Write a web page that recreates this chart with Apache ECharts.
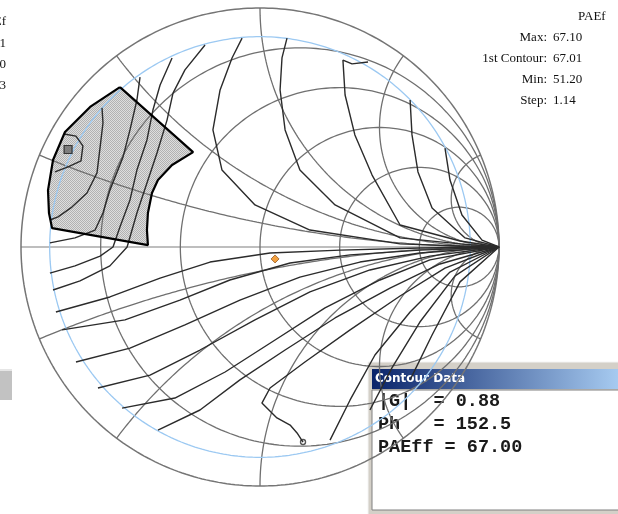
<!DOCTYPE html>
<html>
<head>
<meta charset="utf-8">
<script src="https://cdn.jsdelivr.net/npm/echarts@6/dist/echarts.min.js"></script>
<style>
html, body { margin: 0; padding: 0; background: #fff; }
#chart { width: 618px; height: 514px; }
</style>
</head>
<body>
<div id="chart"></div>
<script>
// Smith chart grid: constant resistance circles and constant reactance arcs
const resistanceValues = [0.2, 0.5, 1, 2, 5];
const reactanceValues = [0.2, 0.5, 1, 2, 5];
const gammaLimit = 0.88;

// PAEff contours, points as [Re(G), Im(G)]
const contour01 = [[-0.820,0.473],[-0.770,0.464],[-0.741,0.423],[-0.749,0.360],[-0.803,0.335],[-0.858,0.314]];
const contour02 = [[-0.661,0.582],[-0.657,0.519],[-0.669,0.418],[-0.682,0.310],[-0.724,0.226],[-0.787,0.167],[-0.845,0.126],[-0.879,0.113]];
const contour03 = [[-0.502,0.711],[-0.515,0.615],[-0.544,0.490],[-0.573,0.377],[-0.628,0.238],[-0.657,0.142],[-0.690,0.071],[-0.774,0.038],[-0.879,0.017]];
const contour04 = [[-0.368,0.791],[-0.418,0.678],[-0.448,0.573],[-0.473,0.448],[-0.515,0.322],[-0.544,0.197],[-0.586,0.084],[-0.615,0.000],[-0.669,-0.038],[-0.774,-0.079],[-0.879,-0.109]];
const contour05 = [[-0.230,0.845],[-0.314,0.741],[-0.364,0.644],[-0.389,0.531],[-0.431,0.393],[-0.473,0.268],[-0.515,0.142],[-0.556,0.000],[-0.628,-0.079],[-0.753,-0.142],[-0.866,-0.180]];
const contour06 = [[-0.075,0.874],[-0.117,0.791],[-0.167,0.657],[-0.197,0.490],[-0.159,0.322],[-0.021,0.176],[0.209,0.071],[0.586,0.013],[0.837,0.004],[1,0],
  [0.669,-0.004],[0.335,-0.013],[0.042,-0.025],[-0.209,-0.063],[-0.418,-0.130],[-0.628,-0.209],[-0.854,-0.272]];
const contour07 = [[0.113,0.874],[0.092,0.791],[0.084,0.657],[0.105,0.490],[0.167,0.322],[0.314,0.176],[0.586,0.038],[0.837,0.013],[1,0],
  [0.669,-0.013],[0.377,-0.033],[0.126,-0.067],[-0.126,-0.138],[-0.335,-0.222],[-0.565,-0.305],[-0.828,-0.347]];
const contour08 = [[0.452,0.774],[0.385,0.766],[0.347,0.782],[0.356,0.636],[0.397,0.469],[0.469,0.301],[0.586,0.092],[0.837,0.025],[1,0],
  [0.669,-0.025],[0.418,-0.063],[0.167,-0.126],[-0.084,-0.222],[-0.314,-0.326],[-0.544,-0.423],[-0.770,-0.481]];
const contour09 = [[0.628,0.615],[0.636,0.469],[0.661,0.314],[0.720,0.163],[0.858,0.038],[1,0],
  [0.711,-0.038],[0.460,-0.096],[0.209,-0.188],[-0.021,-0.305],[-0.251,-0.431],[-0.460,-0.536],[-0.678,-0.590]];
const contour10 = [[0.774,0.414],[0.795,0.280],[0.845,0.134],[0.929,0.029],[1,0],
  [0.711,-0.054],[0.502,-0.138],[0.272,-0.255],[0.063,-0.389],[-0.146,-0.523],[-0.356,-0.632],[-0.577,-0.674]];
const contour11 = [[1,0],[0.753,-0.071],[0.544,-0.172],[0.314,-0.297],[0.105,-0.431],[-0.084,-0.556],[-0.251,-0.682],[-0.427,-0.766]];
const contour12 = [[1,0],[0.774,-0.088],[0.586,-0.205],[0.377,-0.347],[0.188,-0.481],[0.042,-0.590],[0.008,-0.653],[0.071,-0.715],[0.126,-0.745],[0.155,-0.778],[0.180,-0.816]];
const contour13 = [[1,0],[0.795,-0.105],[0.628,-0.272],[0.481,-0.452],[0.377,-0.640],[0.293,-0.808]];
const contour14 = [[1,0],[0.816,-0.121],[0.669,-0.314],[0.552,-0.506],[0.460,-0.682]];
const contour15 = [[1,0],[0.837,-0.146],[0.720,-0.368],[0.628,-0.556]];
const contours = [contour01, contour02, contour03, contour04, contour05, contour06, contour07, contour08,
  contour09, contour10, contour11, contour12, contour13, contour14, contour15];

// Search region outline
const regionBoundary = [[-0.586,0.669],[-0.280,0.397],[-0.368,0.343],[-0.427,0.280],[-0.452,0.226],[-0.469,0.142],[-0.473,0.071],[-0.469,0.008],[-0.870,0.079],[-0.883,0.142],[-0.887,0.238],[-0.866,0.364],[-0.816,0.481],[-0.711,0.586]];

const maxPoint = [-0.803, 0.408];
const currentPoint = [0.063, -0.050];

const summaryTitle = 'PAEf';
const summaryLabels = ['Max:', '1st Contour:', 'Min:', 'Step:'];
const summaryValues = ['67.10', '67.01', '51.20', '1.14'];
const sideColumn = ['PAEf', '66.81', '51.20', '1.13'];
const infoTitle = 'Contour Data';
const infoLines = ['|G|  = 0.88', 'Ph   = 152.5', 'PAEff = 67.00'];

// z = r + jx  ->  G = (z - 1) / (z + 1)
function toGamma(r, x) {
  const d = (r + 1) * (r + 1) + x * x;
  return [(r * r + x * x - 1) / d, (2 * x) / d];
}
function resistanceCircle(r) {
  const pts = [[1, 0]];
  const n = 240;
  for (let i = 1; i < n; i++) {
    const t = -Math.PI / 2 + Math.PI * i / n;
    pts.push(toGamma(r, Math.tan(t)));
  }
  pts.push([1, 0]);
  return pts;
}
function reactanceArc(x) {
  const pts = [];
  const n = 200;
  for (let i = 0; i < n; i++) {
    const t = (Math.PI / 2) * i / n;
    pts.push(toGamma(Math.tan(t), x));
  }
  pts.push([1, 0]);
  return pts;
}
function gammaCircle(rad) {
  const pts = [];
  for (let i = 0; i <= 360; i++) {
    const a = Math.PI * 2 * i / 360;
    pts.push([rad * Math.cos(a), rad * Math.sin(a)]);
  }
  return pts;
}

const gridColor = '#707070';
const series = [];

// dithered fill of the search region
const pat = document.createElement('canvas');
pat.width = 2; pat.height = 2;
const pg = pat.getContext('2d');
pg.fillStyle = '#dedede'; pg.fillRect(0, 0, 2, 2);
pg.fillStyle = '#b2b2b2'; pg.fillRect(0, 0, 1, 1); pg.fillRect(1, 1, 1, 1);

series.push({
  type: 'custom', coordinateSystem: 'cartesian2d', z: 1, silent: true,
  data: [[0, 0]],
  renderItem: function (params, api) {
    return {
      type: 'polygon',
      shape: { points: regionBoundary.map(function (p) { return api.coord(p); }) },
      style: { fill: { image: pat, repeat: 'repeat' }, stroke: null }
    };
  }
});

function lineSeries(data, color, width, z) {
  return {
    type: 'line', data: data, showSymbol: false, symbol: 'none', smooth: false,
    silent: true, z: z, animation: false, clip: false,
    lineStyle: { color: color, width: width }
  };
}

series.push(lineSeries([[-1, 0], [1, 0]], '#a9a9a9', 1.6, 2));
series.push(lineSeries(gammaCircle(1), '#757575', 1.5, 2));
resistanceValues.forEach(function (r) { series.push(lineSeries(resistanceCircle(r), gridColor, 1.3, 2)); });
reactanceValues.forEach(function (x) {
  series.push(lineSeries(reactanceArc(x), gridColor, 1.3, 2));
  series.push(lineSeries(reactanceArc(-x), gridColor, 1.3, 2));
});
series.push(lineSeries(gammaCircle(gammaLimit), '#9cc9f2', 1.3, 3));
contours.forEach(function (c) { series.push(lineSeries(c, '#2b2b2b', 1.4, 4)); });

// region outline
series.push(lineSeries(regionBoundary.concat([regionBoundary[0]]), '#000000', 2.2, 5));

series.push({
  type: 'scatter', data: [maxPoint], symbol: 'rect', symbolSize: 8, z: 6, silent: true,
  itemStyle: { color: '#6a6a6a', borderColor: '#1a1a1a', borderWidth: 1.2 }
});
series.push({
  type: 'scatter', data: [currentPoint], symbol: 'diamond', symbolSize: 8, z: 6, silent: true,
  itemStyle: { color: '#f08a10', borderColor: '#7a3a00', borderWidth: 0.8 }
});
// end mark of one contour
series.push({
  type: 'scatter', data: [contour12[contour12.length - 1]], symbol: 'circle', symbolSize: 5, z: 6, silent: true,
  itemStyle: { color: 'rgba(0,0,0,0)', borderColor: '#2b2b2b', borderWidth: 1.4 }
});

// text and panels
const serif = '"Liberation Serif", "DejaVu Serif", serif';
const graphics = [];
graphics.push({ type: 'text', left: 578, top: 10, style: { text: summaryTitle, font: '13px ' + serif, fill: '#111' } });
summaryLabels.forEach(function (lab, i) {
  const y = 38 + i * 21;
  graphics.push({ type: 'text', x: 547, y: y, style: { text: lab, font: '13px ' + serif, fill: '#111', align: 'right', verticalAlign: 'middle' } });
  graphics.push({ type: 'text', x: 553, y: y, style: { text: summaryValues[i], font: '13px ' + serif, fill: '#111', align: 'left', verticalAlign: 'middle' } });
});
sideColumn.forEach(function (t, i) {
  graphics.push({ type: 'text', x: 6, y: 22 + i * 21.3, style: { text: t, font: '13px ' + serif, fill: '#111', align: 'right', verticalAlign: 'middle' } });
});
// scroll stub at left edge
graphics.push({ type: 'rect', shape: { x: 0, y: 369, width: 12, height: 31 }, style: { fill: '#c2c2c2' } });
graphics.push({ type: 'rect', shape: { x: 0, y: 369, width: 12, height: 2 }, style: { fill: '#e6e6e6' } });

// contour data window
graphics.push({ type: 'rect', shape: { x: 368, y: 362, width: 260, height: 160 }, style: { fill: '#d4d0c8', stroke: '#f4f4f4', lineWidth: 1 } });
graphics.push({
  type: 'rect', shape: { x: 372, y: 369, width: 246, height: 20 },
  style: { fill: new echarts.graphic.LinearGradient(0, 0, 1, 0, [{ offset: 0, color: '#0a246a' }, { offset: 1, color: '#a6caf0' }]) }
});
graphics.push({ type: 'text', x: 375, y: 379, style: { text: infoTitle, font: 'bold 12px "DejaVu Sans", sans-serif', fill: '#ffffff', verticalAlign: 'middle' } });
graphics.push({ type: 'rect', shape: { x: 372, y: 390, width: 250, height: 120 }, style: { fill: '#ffffff', stroke: '#808080', lineWidth: 1 } });
infoLines.forEach(function (t, i) {
  graphics.push({ type: 'text', x: 378, y: 401 + i * 23, style: { text: t, font: 'bold 18.5px "Liberation Mono", "Courier New", monospace', fill: '#1a1a1a', verticalAlign: 'middle' } });
});

const chart = echarts.init(document.getElementById('chart'), null, { renderer: 'canvas' });
chart.setOption({
  animation: false,
  grid: { left: 21, top: 8, width: 478, height: 478 },
  xAxis: { type: 'value', min: -1, max: 1, show: false },
  yAxis: { type: 'value', min: -1, max: 1, show: false },
  series: series,
  graphic: graphics
});
</script>
</body>
</html>
